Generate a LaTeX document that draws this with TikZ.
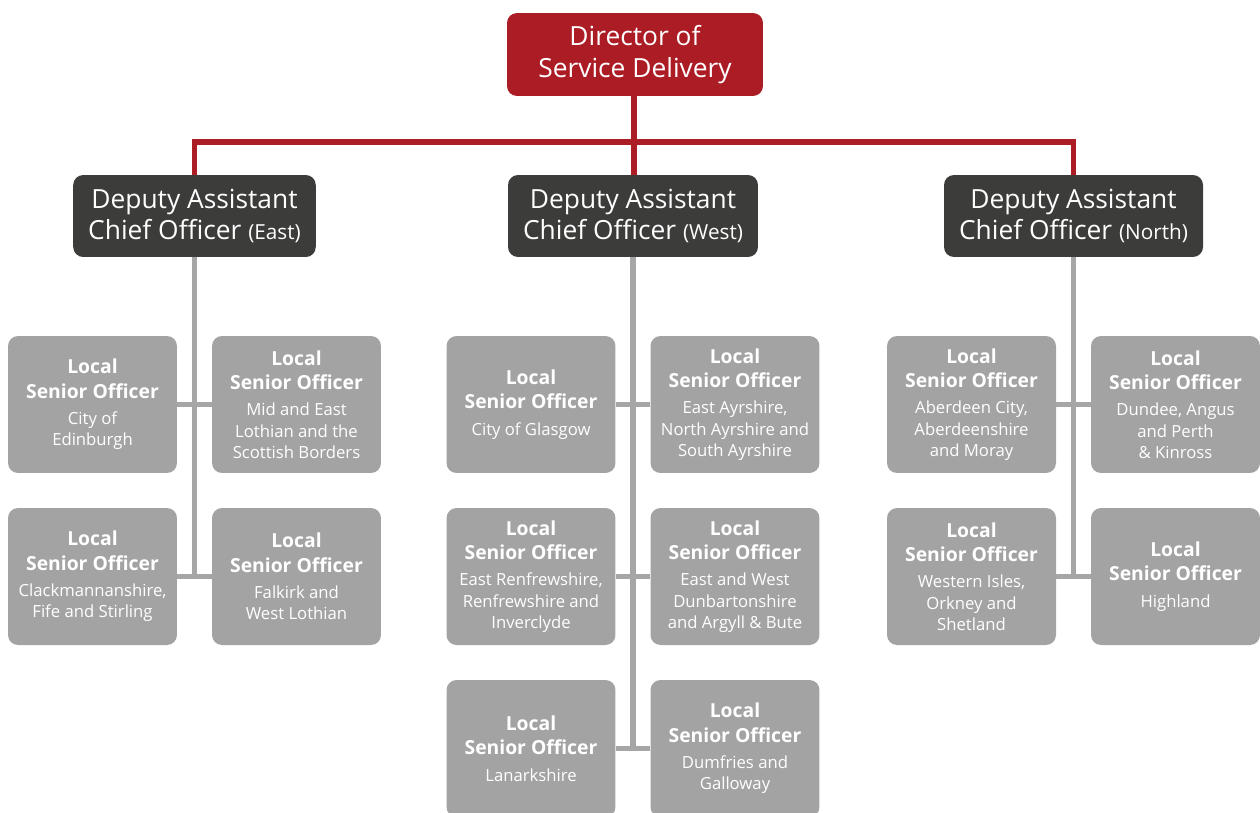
\documentclass[tikz,border=0pt]{standalone}
\usepackage{fontspec}
\setmainfont{Open Sans}
\usepackage{xcolor}
\usepackage{tikz}

\definecolor{sfred}{RGB}{172,28,36}
\definecolor{sfdark}{RGB}{60,60,59}
\definecolor{sfgrey}{RGB}{163,163,163}
\definecolor{sfline}{RGB}{166,166,166}

\newcommand{\lsobf}{\fontsize{11}{13.6}\selectfont\bfseries}
\newcommand{\lsotext}[1]{{\lsobf Local}\\[1.7pt]{\lsobf Senior Officer}\\[3pt]#1}
\newcommand{\area}[1]{{\fontsize{11.8}{14}\selectfont(#1)}}

\tikzset{
  director/.style={fill=sfred,text=white,rounded corners=0.2cm,minimum width=5.12cm,
    minimum height=1.66cm,align=center,font=\fontsize{15}{18.1}\selectfont},
  deputy/.style={fill=sfdark,text=white,rounded corners=0.2cm,inner xsep=0.3cm,
    minimum height=1.64cm,align=center,font=\fontsize{15}{18.1}\selectfont},
  lso/.style={fill=sfgrey,text=white,rounded corners=0.2cm,minimum width=3.38cm,
    minimum height=2.74cm,inner sep=0pt,align=center,font=\fontsize{9.5}{12.1}\selectfont},
  redline/.style={draw=sfred,line width=0.11cm},
  greyline/.style={draw=sfline,line width=0.11cm},
}

\begin{document}
\begin{tikzpicture}[x=0.02cm,y=-0.02cm]
  \useasboundingbox (0,0) rectangle (1260,812);
  % Director
  \node (dir) [director] at (635,54.5) {Director of\\Service Delivery};
  % Deputies
  \node (dacoE) [deputy] at (194.5,216) {Deputy Assistant\\Chief Officer \area{East}};
  \node (dacoW) [deputy] at (633,216) {Deputy Assistant\\Chief Officer \area{West}};
  \node (dacoN) [deputy] at (1073.5,216) {Deputy Assistant\\Chief Officer \area{North}};
  \coordinate (bus) at (634,142);
  % East
  \node (e1) [lso] at (92.5,404.5) {\lsotext{City of\\Edinburgh}};
  \node (e2) [lso] at (296.5,404.5) {\lsotext{Mid and East\\Lothian and the\\Scottish Borders}};
  \node (e3) [lso] at (92.5,576.5) {\lsotext{Clackmannanshire,\\Fife and Stirling}};
  \node (e4) [lso] at (296.5,576.5) {\lsotext{Falkirk and\\West Lothian}};
  % West
  \node (w1) [lso] at (531,404.5) {\lsotext{City of Glasgow}};
  \node (w2) [lso] at (735,404.5) {\lsotext{East Ayrshire,\\North Ayrshire and\\South Ayrshire}};
  \node (w3) [lso] at (531,576.5) {\lsotext{East Renfrewshire,\\Renfrewshire and\\Inverclyde}};
  \node (w4) [lso] at (735,576.5) {\lsotext{East and West\\Dunbartonshire\\and Argyll \& Bute}};
  \node (w5) [lso] at (531,748.5) {\lsotext{Lanarkshire}};
  \node (w6) [lso] at (735,748.5) {\lsotext{Dumfries and\\Galloway}};
  % North
  \node (n1) [lso] at (971.5,404.5) {\lsotext{Aberdeen City,\\Aberdeenshire\\and Moray}};
  \node (n2) [lso] at (1175.5,404.5) {\lsotext{Dundee, Angus\\and Perth\\\& Kinross}};
  \node (n3) [lso] at (971.5,576.5) {\lsotext{Western Isles,\\Orkney and\\Shetland}};
  \node (n4) [lso] at (1175.5,576.5) {\lsotext{Highland}};
  % red lines
  \draw[redline] (dir.south -| bus) -- (bus |- dacoW.north);
  \draw[redline,line join=miter] (dacoE.north) |- (bus) -| (dacoN.north);
  % grey lines
  \draw[greyline] (dacoE.south) -- (dacoE.south |- e4.west);
  \draw[greyline] (e1.east) -- (e2.west);
  \draw[greyline] (e3.east) -- (e4.west);
  \draw[greyline] (dacoW.south) -- (dacoW.south |- w6.west);
  \draw[greyline] (w1.east) -- (w2.west);
  \draw[greyline] (w3.east) -- (w4.west);
  \draw[greyline] (w5.east) -- (w6.west);
  \draw[greyline] (dacoN.south) -- (dacoN.south |- n4.west);
  \draw[greyline] (n1.east) -- (n2.west);
  \draw[greyline] (n3.east) -- (n4.west);
\end{tikzpicture}
\end{document}
